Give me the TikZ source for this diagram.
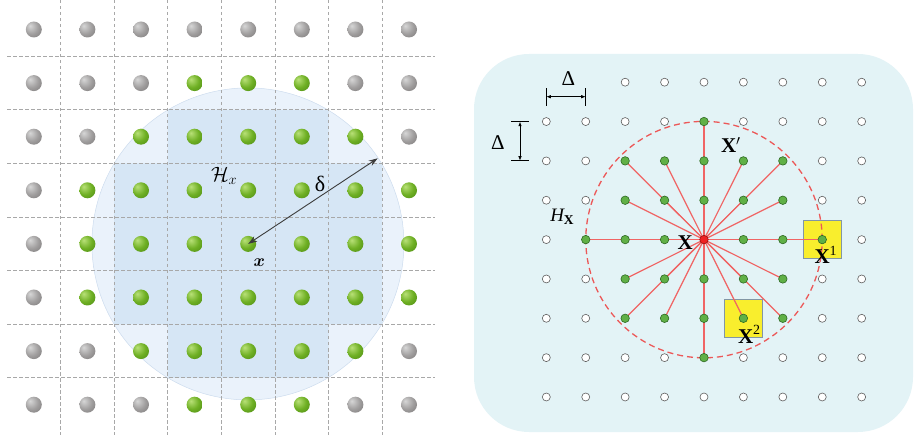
\documentclass[tikz,border=0pt]{standalone}
\usepackage{amsmath}
\usepackage{fontspec}
\setmainfont{Liberation Serif}
\usetikzlibrary{arrows.meta}

% palette
\definecolor{gHi}{RGB}{215,215,215}
\definecolor{gMid}{RGB}{160,158,158}
\definecolor{gLo}{RGB}{105,102,102}
\definecolor{vHi}{RGB}{185,225,120}
\definecolor{vMid}{RGB}{110,175,35}
\definecolor{vLo}{RGB}{60,120,15}
\definecolor{discFill}{RGB}{234,242,251}
\definecolor{discEdge}{RGB}{205,220,238}
\definecolor{cellFill}{RGB}{214,230,245}
\definecolor{gridLine}{RGB}{168,168,168}
\definecolor{panel}{RGB}{227,243,246}
\definecolor{ptEdge}{RGB}{95,95,95}
\definecolor{nbFill}{RGB}{96,176,70}
\definecolor{nbEdge}{RGB}{45,105,35}
\definecolor{ctrFill}{RGB}{238,34,34}
\definecolor{ctrEdge}{RGB}{150,20,20}
\definecolor{rayRed}{RGB}{240,100,100}
\definecolor{ringRed}{RGB}{236,88,88}
\definecolor{boxYellow}{RGB}{249,238,45}
\definecolor{boxEdge}{RGB}{130,150,165}

% soft spherical shadings for the lattice balls
\pgfdeclareradialshading{shGray}{\pgfpoint{-12bp}{12bp}}{%
  color(0bp)=(gHi); color(22bp)=(gMid); color(52bp)=(gLo); color(70bp)=(gLo)}
\pgfdeclareradialshading{shGreen}{\pgfpoint{-12bp}{12bp}}{%
  color(0bp)=(vHi); color(22bp)=(vMid); color(52bp)=(vLo); color(70bp)=(vLo)}

\tikzset{
  lgray/.style={circle, minimum size=16pt, inner sep=0pt, shading=shGray},
  lgreen/.style={circle, minimum size=16pt, inner sep=0pt, shading=shGreen},
  gridrule/.style={gridLine, line width=0.9pt, dash pattern=on 3.5pt off 2.5pt},
  darrow/.style={draw={rgb,255:red,60;green,60;blue,60}, line width=0.9pt,
    {Stealth[length=9pt,width=6pt]}-{Stealth[length=9pt,width=6pt]}},
  latpt/.style={circle, minimum size=8pt, inner sep=0pt, fill=white, draw=ptEdge, line width=0.6pt},
  nbpt/.style={circle, minimum size=8.5pt, inner sep=0pt, fill=nbFill, draw=nbEdge, line width=0.6pt},
  ctrpt/.style={circle, minimum size=8.5pt, inner sep=0pt, fill=ctrFill, draw=ctrEdge, line width=0.6pt},
  ray/.style={draw=rayRed, line width=1.2pt},
  ring/.style={ringRed, line width=1.3pt, dash pattern=on 6pt off 4pt},
  ysq/.style={rectangle, minimum size=37.5pt, inner sep=0pt, fill=boxYellow, draw=boxEdge, line width=0.8pt},
  bar/.style={black, line width=1.2pt},
  dimarrow/.style={black, line width=0.7pt, {Latex[length=4.5pt,width=3.5pt]}-{Latex[length=4.5pt,width=3.5pt]}},
  lbl/.style={inner sep=0pt, outer sep=0pt}
}
\newcommand\boldX{\fontsize{21}{23}\selectfont\bfseries}

\begin{document}
\begin{tikzpicture}[x=1pt, y=-1pt]
\useasboundingbox (0,0) rectangle (915,435);

% ---------- left: lattice inside a ball of radius delta ----------
\coordinate (Lc) at (247.9,243.9);
\fill[discFill] (Lc) circle[radius=156pt];
\draw[discEdge, line width=0.5pt] (Lc) circle[radius=156pt];
\fill[cellFill] (167.8,109.9) -- (328.6,109.9) -- (328.6,163.5) -- (382.2,163.5)
  -- (382.2,324.3) -- (328.6,324.3) -- (328.6,377.9) -- (167.8,377.9)
  -- (167.8,324.3) -- (114.2,324.3) -- (114.2,163.5) -- (167.8,163.5) -- cycle;

\foreach \k in {1,...,7}{
  \draw[gridrule] ({7+53.6*\k},0) -- ({7+53.6*\k},435);
  \draw[gridrule] (7,{2.7+53.6*\k}) -- (435,{2.7+53.6*\k});
}

\foreach \r in {0,...,7}{
  \foreach \c in {0,...,7}{
    \pgfmathtruncatemacro{\dd}{(\c-4)*(\c-4)+(\r-4)*(\r-4)}
    \ifnum\dd<11 \def\sty{lgreen}\else\def\sty{lgray}\fi
    \node[\sty] (L-\r-\c) at ({33.8+53.6*\c},{29.5+53.6*\r}) {};
  }
}

\coordinate (rim) at (377.7,158.3);
\draw[darrow] (rim) -- (L-4-4.center);
\node[lbl] (deltaLbl) at (320,184) {\fontsize{22}{24}\selectfont δ};
\node[lbl, anchor=base west] (HxLbl) at (211,181.5) {\fontsize{20}{22}\selectfont $\mathcal{H}_x$};
\node[lbl] (xLbl) at (259.3,262.2) {\fontsize{19}{21}\selectfont $\boldsymbol{x}$};

% ---------- right: neighbourhood on a grid of spacing Delta ----------
\fill[panel, rounded corners=55pt] (474,54) rectangle (913,432);

\coordinate (dh1) at (546.3,96.7);
\coordinate (dh2) at (585.7,96.7);
\draw[bar] ([yshift=-9pt]dh1) -- ([yshift=9pt]dh1);
\draw[bar] ([yshift=-9pt]dh2) -- ([yshift=9pt]dh2);
\draw[dimarrow] (dh1) -- (dh2);
\node[lbl] (DeltaH) at (568.3,78.8) {\fontsize{21}{23}\selectfont Δ};

\coordinate (dv1) at (520,121.7);
\coordinate (dv2) at (520,160.7);
\draw[bar] ([xshift=-9pt]dv1) -- ([xshift=9pt]dv1);
\draw[bar] ([xshift=-9pt]dv2) -- ([xshift=9pt]dv2);
\draw[dimarrow] (dv1) -- (dv2);
\node[lbl] (DeltaV) at (497.8,142.2) {\fontsize{21}{23}\selectfont Δ};

\foreach \r in {0,...,8}{
  \foreach \c in {0,...,8}{
    \coordinate (P-\r-\c) at ({546.3+39.42*\c},{82.2+39.35*\r});
  }
}

\node[ysq] (sq1) at (P-4-7) {};
\node[ysq] (sq2) at (P-6-5) {};
\draw[ring] (P-4-4) circle[radius=118.2pt];

% spokes from the centre to every neighbour
\foreach \r in {1,...,7}{
  \foreach \c in {1,...,7}{
    \pgfmathtruncatemacro{\dd}{(\c-4)*(\c-4)+(\r-4)*(\r-4)}
    \ifnum\dd>0 \ifnum\dd<10 \draw[ray] (P-4-4) -- (P-\r-\c); \fi\fi
  }
}

\foreach \r in {0,...,8}{
  \foreach \c in {0,...,8}{
    \pgfmathtruncatemacro{\dd}{(\c-4)*(\c-4)+(\r-4)*(\r-4)}
    \pgfmathtruncatemacro{\omitpt}{(\r==0)&&(\c<2)}
    \ifnum\omitpt=0
      \ifnum\dd=0 \def\sty{ctrpt}\else
        \ifnum\dd<10 \def\sty{nbpt}\else\def\sty{latpt}\fi\fi
      \node[\sty] (R-\r-\c) at (P-\r-\c) {};
    \fi
  }
}

\node[lbl, anchor=base west] (xCtr) at (677.5,250) {\boldX X};
\node[lbl, anchor=base west] (xPrime) at (721,153) {\boldX X$^{\prime}$};
\node[lbl, anchor=base west] (xOne) at (814.5,264) {\boldX X\raisebox{8.5pt}{\fontsize{14}{14}\selectfont\mdseries 1}};
\node[lbl, anchor=base west] (xTwo) at (738,343) {\boldX X\raisebox{8.5pt}{\fontsize{14}{14}\selectfont\mdseries 2}};
\node[lbl] (HLbl) at (562,217.2) {{\fontsize{19}{21}\selectfont\itshape H}\raisebox{-3pt}{\fontsize{13.5}{15}\selectfont\bfseries X}};
\end{tikzpicture}
\end{document}
